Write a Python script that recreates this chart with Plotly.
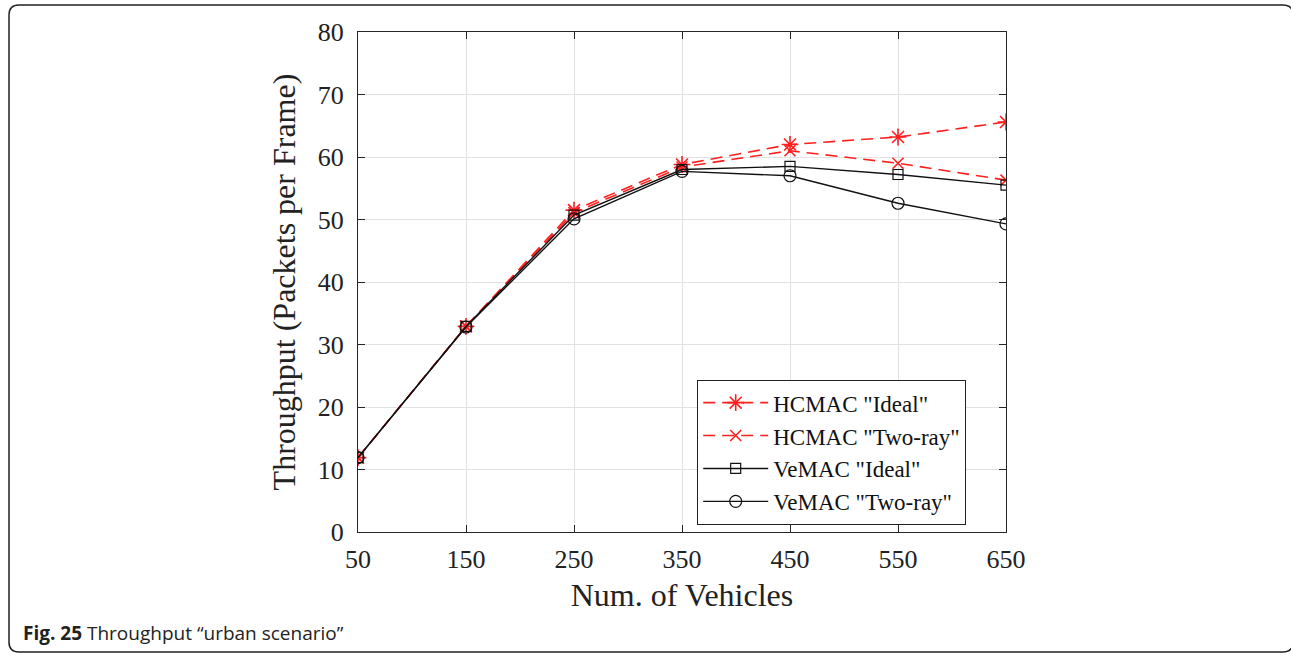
import plotly.graph_objects as go

vehicles = [50, 150, 250, 350, 450, 550, 650]
hcmac_ideal = [11.9, 32.9, 51.5, 58.8, 62.0, 63.2, 65.6]
hcmac_tworay = [11.9, 32.9, 51.1, 58.4, 61.0, 59.0, 56.3]
vemac_ideal = [11.9, 32.9, 50.7, 58.0, 58.5, 57.2, 55.5]
vemac_tworay = [11.9, 32.8, 50.1, 57.7, 57.0, 52.6, 49.3]
x_ticks = [50, 150, 250, 350, 450, 550, 650]
y_ticks = [0, 10, 20, 30, 40, 50, 60, 70, 80]

W, H = 1291, 655
L, R, T, B = 358, 1006, 32, 532

fig = go.Figure()
red = "#ff1f1f"
blk = "#111111"
fig.add_trace(go.Scatter(x=vehicles, y=hcmac_ideal, name='HCMAC "Ideal"', mode="lines+markers",
                         line=dict(color=red, width=1.6, dash="12px,7px"),
                         marker=dict(symbol="asterisk-open", size=14, color=red, line=dict(color=red, width=1.6))))
fig.add_trace(go.Scatter(x=vehicles, y=hcmac_tworay, name='HCMAC "Two-ray"', mode="lines+markers",
                         line=dict(color=red, width=1.6, dash="12px,7px"),
                         marker=dict(symbol="x-thin-open", size=11, color=red, line=dict(color=red, width=1.6))))
fig.add_trace(go.Scatter(x=vehicles, y=vemac_ideal, name='VeMAC "Ideal"', mode="lines+markers",
                         line=dict(color=blk, width=1.4),
                         marker=dict(symbol="square-open", size=10, color=blk, line=dict(width=1.2))))
fig.add_trace(go.Scatter(x=vehicles, y=vemac_tworay, name='VeMAC "Two-ray"', mode="lines+markers",
                         line=dict(color=blk, width=1.4),
                         marker=dict(symbol="circle-open", size=12, color=blk, line=dict(width=1.2))))

def px(x):
    return (x - L) / (R - L)

def py(y):
    return (B - y) / (B - T)

# rounded outer frame (pixel coordinates)
x0, x1, y0, y1 = 9, 1293, 5, 652
r = 10
path = (f"M {px(x0 + r)},{py(y0)} L {px(x1 - r)},{py(y0)} Q {px(x1)},{py(y0)} {px(x1)},{py(y0 + r)} "
        f"L {px(x1)},{py(y1 - r)} Q {px(x1)},{py(y1)} {px(x1 - r)},{py(y1)} "
        f"L {px(x0 + r)},{py(y1)} Q {px(x0)},{py(y1)} {px(x0)},{py(y1 - r)} "
        f"L {px(x0)},{py(y0 + r)} Q {px(x0)},{py(y0)} {px(x0 + r)},{py(y0)} Z")
fig.add_shape(type="path", path=path, xref="paper", yref="paper",
              line=dict(color="#222222", width=1.5), layer="below")

fig.add_annotation(x=px(21), y=py(633), xref="paper", yref="paper", xanchor="left", yanchor="middle",
                   showarrow=False,
                   text="<b>Fig. 25</b> Throughput \u201curban scenario\u201d",
                   font=dict(family="Open Sans, Noto Sans, sans-serif", size=19, color="#222222"))

serif = "Liberation Serif, Times New Roman, serif"
axis_common = dict(showline=True, linecolor="#262626", linewidth=1.2, mirror="ticks",
                   ticks="inside", ticklen=7, tickcolor="#262626",
                   showgrid=True, gridcolor="#e2e2e2", gridwidth=1, zeroline=False,
                   tickfont=dict(family=serif, size=26, color="#222222"))

fig.update_layout(
    width=W, height=H,
    margin=dict(l=L, r=W - R, t=T, b=H - B, pad=0),
    paper_bgcolor="white", plot_bgcolor="white",
    xaxis=dict(range=[50, 650], tickvals=x_ticks, ticktext=[str(v) for v in x_ticks],
               ticklabelstandoff=4,
               title=dict(text="Num. of Vehicles", standoff=10,
                          font=dict(family=serif, size=32, color="#222222")),
               **axis_common),
    yaxis=dict(range=[0, 80], tickvals=y_ticks, ticktext=[str(v) for v in y_ticks],
               ticklabelstandoff=8,
               title=dict(text="Throughput (Packets per Frame)", standoff=12,
                          font=dict(family=serif, size=32, color="#222222")),
               **axis_common),
    legend=dict(x=px(697), y=py(380), xanchor="left", yanchor="top",
                bgcolor="white", bordercolor="#222222", borderwidth=1.2,
                font=dict(family=serif, size=23, color="#111111"),
                tracegroupgap=0, itemwidth=65),
    showlegend=True,
)

fig.write_html("out.html", config={"displayModeBar": False},
               post_script="document.body.style.margin='0px';")
